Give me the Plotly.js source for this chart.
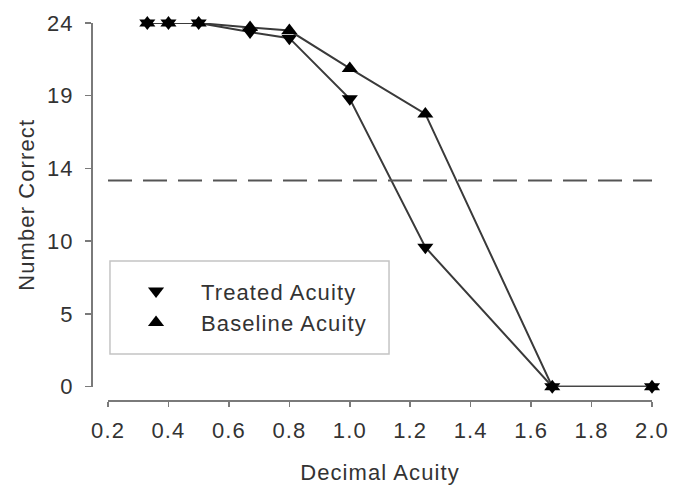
<!DOCTYPE html>
<html>
<head>
<meta charset="utf-8">
<script src="https://cdn.plot.ly/plotly-3.0.1.min.js"></script>
<style>
  html, body { margin: 0; padding: 0; background: #fff; }
  text { letter-spacing: 1.1px; }
</style>
</head>
<body>
<div id="chart" style="width:686px;height:485px;"></div>
<script>
// Data
const acuity = [0.33, 0.4, 0.5, 0.67, 0.8, 1.0, 1.25, 1.67, 2.0];
const treated = [24, 24, 24, 23.4, 23.0, 19.0, 9.2, 0, 0];
const baseline = [24, 24, 24, 23.7, 23.5, 21.0, 18.0, 0, 0];
const criterion = 13.6;
const yTickVals = [0, 4.8, 9.6, 14.4, 19.2, 24];
const yTickText = ['0', '5', '10', '14', '19', '24'];
const xRange = [0.2, 2.0];

const FONT = 'Liberation Sans, Arial, Helvetica, sans-serif';
const TXT = '#333333';
const AX = '#7a7a7a';

function seriesTraces(name, ys, symbol) {
  return [
    {
      x: acuity, y: ys, name: name, type: 'scatter', mode: 'lines',
      line: { color: '#3a3a3a', width: 2 }, showlegend: false, cliponaxis: false
    },
    {
      x: acuity, y: ys, name: name, type: 'scatter', mode: 'markers',
      marker: { symbol: symbol, size: 14, color: '#000000' }, cliponaxis: false
    }
  ];
}

const traces = [].concat(
  seriesTraces('Treated Acuity', treated, 'triangle-down'),
  seriesTraces('Baseline Acuity', baseline, 'triangle-up')
);

const layout = {
  width: 686, height: 485,
  margin: { l: 92, r: 34, t: 23, b: 84, pad: 0 },
  paper_bgcolor: '#ffffff', plot_bgcolor: '#ffffff',
  font: { family: FONT, color: TXT, size: 21 },
  showlegend: true,
  legend: {
    x: 0.034, xanchor: 'left', y: 0.346, yanchor: 'top',
    bgcolor: 'rgba(0,0,0,0)', borderwidth: 0,
    itemwidth: 80, font: { family: FONT, size: 22, color: TXT },
    traceorder: 'normal'
  },
  xaxis: {
    range: xRange, domain: [0.0286, 1], anchor: 'free', position: 0,
    tick0: 0.2, dtick: 0.2, tickformat: '.1f',
    showline: true, linecolor: AX, linewidth: 2,
    ticks: 'outside', ticklen: 5, tickwidth: 1.5, tickcolor: AX,
    showgrid: false, zeroline: false, automargin: false,
    ticklabelstandoff: 5,
    tickfont: { family: FONT, size: 22, color: TXT },
    title: { text: 'Decimal Acuity', font: { family: FONT, size: 22, color: TXT }, standoff: 21 }
  },
  yaxis: {
    range: [0, 24], domain: [0.0378, 1], anchor: 'free', position: 0,
    tickmode: 'array', tickvals: yTickVals, ticktext: yTickText,
    showline: true, linecolor: AX, linewidth: 2,
    ticks: 'outside', ticklen: 6, tickwidth: 1.5, tickcolor: AX,
    showgrid: false, zeroline: false, automargin: false,
    ticklabelstandoff: 7,
    tickfont: { family: FONT, size: 22, color: TXT },
    title: { text: 'Number Correct', font: { family: FONT, size: 22, color: TXT }, standoff: 5 }
  },
  shapes: [
    {
      type: 'line', xref: 'x', yref: 'y', x0: xRange[0], x1: xRange[1], y0: criterion, y1: criterion,
      line: { color: '#555555', width: 2, dash: '24px,11px' }
    },
    {
      type: 'rect', xref: 'paper', yref: 'paper',
      x0: 0.0321, x1: 0.5304, y0: 0.1243, y1: 0.3704,
      line: { color: '#c4c4c4', width: 1.5 }, fillcolor: 'rgba(0,0,0,0)', layer: 'below'
    }
  ]
};

Plotly.newPlot('chart', traces, layout, { staticPlot: true, displayModeBar: false });
</script>
</body>
</html>
